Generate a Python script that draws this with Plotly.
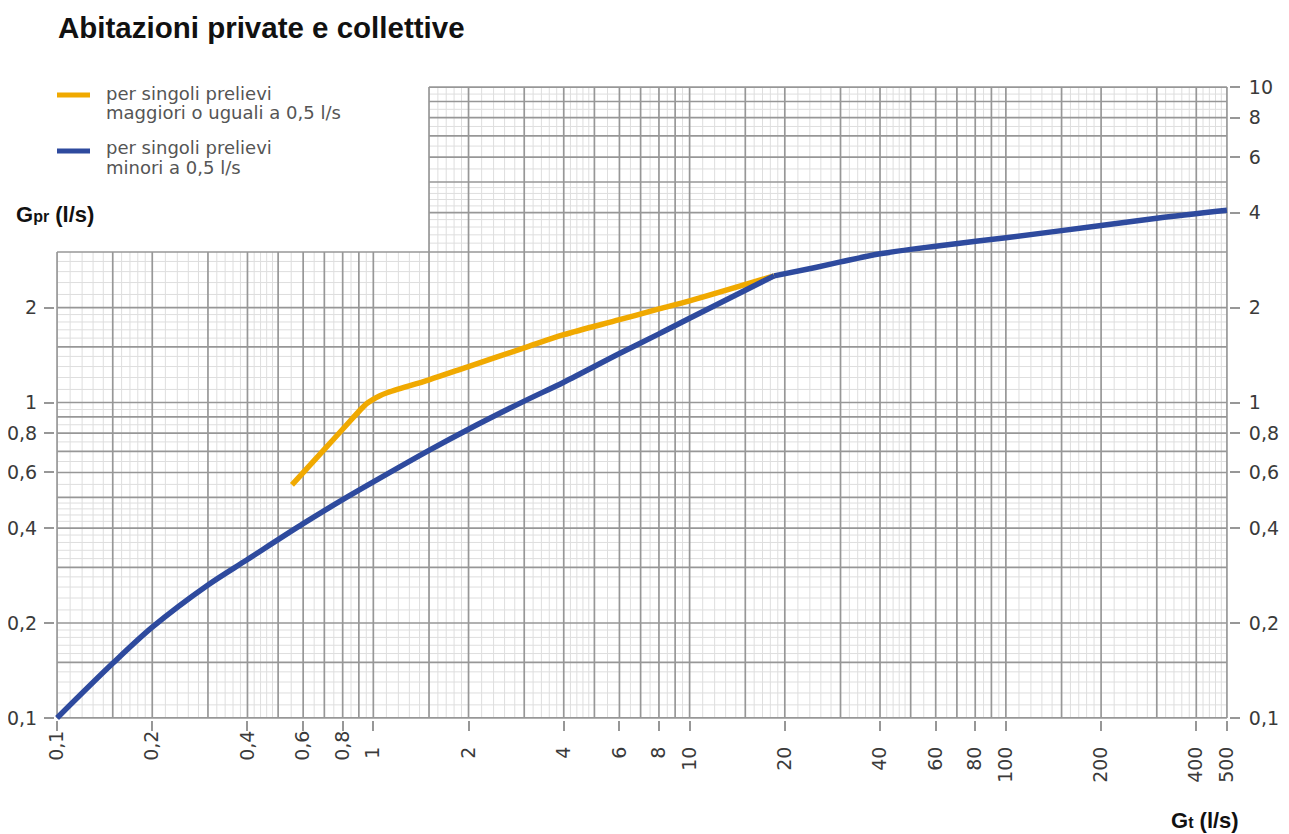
import math
import plotly.graph_objects as go

# ---------------- data ----------------
title_text = "Abitazioni private e collettive"
orange_label = ["per singoli prelievi", "maggiori o uguali a 0,5 l/s"]
blue_label = ["per singoli prelievi", "minori a 0,5 l/s"]
y_title = "G<span style='font-size:16px'>pr</span> (l/s)"
x_title = "G<span style='font-size:16px'>t</span> (l/s)"

orange_x = [0.553, 0.70, 0.85, 0.92, 0.955, 0.996, 1.045, 1.1, 1.5, 2, 3, 4, 6, 8, 10, 18.5]
orange_y = [0.548, 0.71, 0.88, 0.959, 0.994, 1.022, 1.049, 1.072, 1.18, 1.30, 1.49, 1.64,
            1.83, 1.98, 2.10, 2.52]

blue_x = [0.1, 0.15, 0.2, 0.3, 0.4, 0.6, 0.8, 1, 1.5, 2, 3, 4, 6, 8, 10, 18.5,
          25, 30, 40, 60, 100, 200, 300, 500]
blue_y = [0.1, 0.149, 0.194, 0.264, 0.318, 0.413, 0.492, 0.56, 0.705, 0.823, 1.01, 1.16,
          1.43, 1.65, 1.85, 2.52, 2.68, 2.79, 2.96, 3.13, 3.33, 3.64, 3.84, 4.07]
blue_break = 18.5   # sharp knee of the blue curve

x_tickvals_dec = [0.1, 0.2, 0.4, 0.6, 0.8]
x_ticktext_dec = ["0,1", "0,2", "0,4", "0,6", "0,8"]
x_tickvals_int = [1, 2, 4, 6, 8, 10, 20, 40, 60, 80, 100, 200, 400, 500]
x_ticktext_int = ["1", "2", "4", "6", "8", "10", "20", "40", "60", "80", "100", "200", "400", "500"]
yl_tickvals = [0.1, 0.2, 0.4, 0.6, 0.8, 1, 2]
yl_ticktext = ["0,1", "0,2", "0,4", "0,6", "0,8", "1", "2"]
yr_tickvals = [0.1, 0.2, 0.4, 0.6, 0.8, 1, 2, 4, 6, 8, 10]
yr_ticktext = ["0,1", "0,2", "0,4", "0,6", "0,8", "1", "2", "4", "6", "8", "10"]

# log-paper grid definition (per decade)
major_mant = [1, 1.5, 2, 3, 4, 5, 6, 7, 8, 9]
minor_mant = [1.1, 1.2, 1.3, 1.4, 1.6, 1.7, 1.8, 1.9, 2.2, 2.4, 2.6, 2.8, 3.2, 3.4, 3.6, 3.8,
              4.2, 4.4, 4.6, 4.8, 5.5, 6.5, 7.5, 8.5, 9.5]

X_MIN, X_MAX = 0.1, 500
Y_MIN, Y_MAX = 0.1, 10
X_STEP, Y_STEP = 1.5, 3   # lower block: y<=3 full width ; upper block: x>=1.5


def decade_values(mants, lo, hi):
    vals = []
    for e in range(-2, 4):
        for m in mants:
            v = round(m * 10 ** e, 6)
            if lo - 1e-9 <= v <= hi + 1e-9:
                vals.append(v)
    return sorted(set(vals))


def grid_xy(mants):
    xs, ys = [], []
    for v in decade_values(mants, X_MIN, X_MAX):
        top = Y_MAX if v >= X_STEP - 1e-9 else Y_STEP
        xs += [v, v, None]
        ys += [Y_MIN, top, None]
    for v in decade_values(mants, Y_MIN, Y_MAX):
        left = X_MIN if v <= Y_STEP + 1e-9 else X_STEP
        xs += [left, X_MAX, None]
        ys += [v, v, None]
    return xs, ys


minor_x, minor_y = grid_xy(minor_mant)
major_x, major_y = grid_xy(major_mant)

ORANGE = "#f0a900"
BLUE = "#2e4a9e"
FONT = "Liberation Sans"
TFONT = "DejaVu Sans"

# page body has an 8px margin -> figure is 8px smaller than the window
W, H = 1281, 826
L, R, T, B = 47, 60, 77, 114
PW, PH = W - L - R, H - T - B


def px(xr):   # reference-window pixel -> paper x
    return (xr - 8 - L) / PW


def py(yr):   # reference-window pixel -> paper y
    return (H - B - (yr - 8)) / PH


fig = go.Figure()
fig.add_trace(go.Scatter(x=minor_x, y=minor_y, mode="lines", hoverinfo="skip",
                         line=dict(color="#dedede", width=1), showlegend=False))
fig.add_trace(go.Scatter(x=major_x, y=major_y, mode="lines", hoverinfo="skip",
                         line=dict(color="#979797", width=1.7), showlegend=False))
fig.add_trace(go.Scatter(x=orange_x, y=orange_y, mode="lines", name=" ".join(orange_label),
                         line=dict(color=ORANGE, width=5.5, shape="spline", smoothing=0.9),
                         showlegend=False))
k = blue_x.index(blue_break)
fig.add_trace(go.Scatter(x=blue_x[:k + 1], y=blue_y[:k + 1], mode="lines",
                         name=" ".join(blue_label), legendgroup="b",
                         line=dict(color=BLUE, width=5.5, shape="spline", smoothing=0.9),
                         showlegend=False))
fig.add_trace(go.Scatter(x=blue_x[k:], y=blue_y[k:], mode="lines",
                         name=" ".join(blue_label), legendgroup="b",
                         line=dict(color=BLUE, width=5.5, shape="spline", smoothing=0.9),
                         showlegend=False))

pad = 0.0065
xr = [math.log10(X_MIN) - pad, math.log10(X_MAX) + pad]
yr = [math.log10(Y_MIN) - pad, math.log10(Y_MAX) + pad]
tickfont = dict(family=TFONT, size=19, color="#3a3a3a")
tickstyle = dict(ticks="outside", ticklen=10, tickwidth=1.5, tickcolor="#979797",
                 tickfont=tickfont, showgrid=False, zeroline=False, showline=False,
                 automargin=False, tickmode="array")

annotations = [
    dict(text="<b>" + title_text + "</b>", xref="paper", yref="paper",
         x=px(56), y=py(27), xanchor="left", yanchor="middle", showarrow=False,
         font=dict(family=FONT, size=29.5, color="#111111")),
    dict(text="<b>" + y_title + "</b>", xref="paper", yref="paper",
         x=px(14), y=py(215), xanchor="left", yanchor="middle",
         showarrow=False, font=dict(family=FONT, size=22, color="#111111")),
    dict(text="<b>" + x_title + "</b>", xref="paper", yref="paper",
         x=px(1241), y=py(820), xanchor="right", yanchor="middle",
         showarrow=False, font=dict(family=FONT, size=22, color="#111111")),
]
legend_rows = [(orange_label, ORANGE, 95, 93), (blue_label, BLUE, 151, 148)]
shapes = []
for lines, col, ly, ty in legend_rows:
    shapes.append(dict(type="line", xref="paper", yref="paper", x0=px(57), x1=px(90),
                       y0=py(ly), y1=py(ly), line=dict(color=col, width=5)))
    for i, t in enumerate(lines):
        annotations.append(dict(text=t, xref="paper", yref="paper", x=px(104),
                                y=py(ty + 19 * i), xanchor="left", yanchor="middle",
                                showarrow=False,
                                font=dict(family=TFONT, size=18, color="#555555")))

fig.update_layout(
    width=W, height=H,
    margin=dict(l=L, r=R, t=T, b=B, autoexpand=False),
    plot_bgcolor="white", paper_bgcolor="white",
    font=dict(family=FONT),
    showlegend=False,
    xaxis=dict(type="log", range=xr, tickvals=x_tickvals_dec, ticktext=x_ticktext_dec,
               tickangle=-90, ticklabelstandoff=-8, **tickstyle),
    xaxis2=dict(type="log", range=xr, overlaying="x", side="bottom", anchor="y",
                tickvals=x_tickvals_int, ticktext=x_ticktext_int,
                tickangle=-90, ticklabelstandoff=8, **tickstyle),
    yaxis=dict(type="log", range=yr, tickvals=yl_tickvals, ticktext=yl_ticktext,
               ticklabelstandoff=3, **tickstyle),
    yaxis2=dict(type="log", range=yr, overlaying="y", side="right", anchor="x",
                tickvals=yr_tickvals, ticktext=yr_ticktext,
                ticklabelstandoff=5, **tickstyle),
    annotations=annotations,
    shapes=shapes,
)
# invisible anchor traces for the secondary axes
fig.add_trace(go.Scatter(x=[X_MIN], y=[Y_MIN], yaxis="y2", mode="markers",
                         marker=dict(opacity=0), showlegend=False, hoverinfo="skip"))
fig.add_trace(go.Scatter(x=[X_MIN], y=[Y_MIN], xaxis="x2", mode="markers",
                         marker=dict(opacity=0), showlegend=False, hoverinfo="skip"))

fig.write_html("out.html")
